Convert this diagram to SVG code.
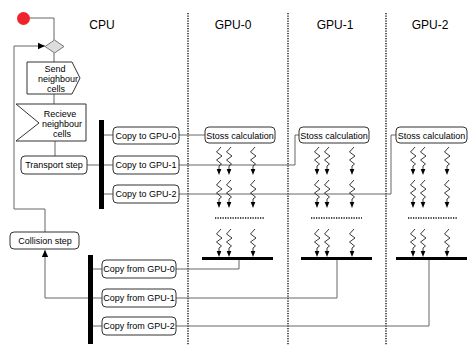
<svg xmlns="http://www.w3.org/2000/svg" xmlns:xlink="http://www.w3.org/1999/xlink" width="469" height="345" viewBox="0 0 469 345">
<style>
.box{fill:#fff;stroke:#333;stroke-width:1}
.t{font-family:"Liberation Sans",Arial,sans-serif;font-size:9px;fill:#000;text-anchor:middle}
.h{font-family:"Liberation Sans",Arial,sans-serif;font-size:12px;fill:#000;text-anchor:middle}
.c{fill:none;stroke:#666;stroke-width:1}
.bar{fill:#000}
.dot{stroke:#111;stroke-width:1.4;stroke-dasharray:1.3,1.2;fill:none}
.zz{fill:none;stroke:#222;stroke-width:0.9}
</style>
<defs>
<marker id="ah" markerWidth="8" markerHeight="8" refX="7" refY="4" orient="auto" markerUnits="userSpaceOnUse">
<path d="M0,0.8 L7,4 L0,7.2 Z" fill="#000"/>
</marker>
<g id="zig">
<path class="zz" d="M2,0 L-2.5,5 L3,9 L-2.5,13 L2.5,17 L0,19 L0,23"/>
<path d="M-2.3,22 L2.3,22 L0,28 Z" fill="#000"/>
</g>
</defs>
<rect width="469" height="345" fill="#fff"/>

<g id="headers">
<text class="h" x="102" y="29">CPU</text>
<text class="h" x="233" y="29">GPU-0</text>
<text class="h" x="335" y="29">GPU-1</text>
<text class="h" x="430" y="29">GPU-2</text>
</g>

<g id="lanes">
<line class="dot" x1="188" y1="13" x2="188" y2="345"/>
<line class="dot" x1="288" y1="13" x2="288" y2="345"/>
<line class="dot" x1="386" y1="13" x2="386" y2="345"/>
</g>

<g id="connectors">
<path class="c" d="M29,18 H54 V40"/>
<path class="c" d="M45,232 V209 H14 V46 H45" marker-end="url(#ah)"/>
<path class="c" d="M54,53 V62"/>
<path class="c" d="M54,94 V104"/>
<path class="c" d="M55,141 V156"/>
<path class="c" d="M87,165 H99"/>
<path class="c" d="M104,135 H113"/>
<path class="c" d="M104,165 H113"/>
<path class="c" d="M104,194 H113"/>
<path class="c" d="M179,135 H205"/>
<path class="c" d="M179,165 H295 V135 H299"/>
<path class="c" d="M179,194 H391 V135 H396"/>
<path class="c" d="M93,269 H102"/>
<path class="c" d="M93,298 H102"/>
<path class="c" d="M93,326 H102"/>
<path class="c" d="M88,298 H45 V250" marker-end="url(#ah)"/>
<path class="c" d="M239,259 V269 H176"/>
<path class="c" d="M337,259 V298 H176"/>
<path class="c" d="M429,259 V326 H176"/>
</g>

<g id="start"><circle cx="23.5" cy="18.5" r="6.5" fill="#f0232d"/></g>
<g id="decision"><path d="M45,46.5 L54.5,40 L64,46.5 L54.5,53 Z" fill="#ddd" stroke="#777" stroke-width="1"/></g>

<g id="send">
<path class="box" d="M27,62 H72 L80,78 L72,94 H27 Z"/>
<text class="t" x="55" y="72">Send</text>
<text class="t" x="58" y="82">neighbour</text>
<text class="t" x="56" y="92">cells</text>
</g>

<g id="recieve">
<path class="box" d="M16,104 H86 V141 H16 L39,123 Z"/>
<text class="t" x="60" y="117">Recieve</text>
<text class="t" x="62" y="127">neighbour</text>
<text class="t" x="62" y="137">cells</text>
</g>

<g id="transport">
<rect class="box" x="21" y="156" width="66" height="18" rx="4"/>
<text class="t" x="54" y="168">Transport step</text>
</g>

<g id="collision">
<rect class="box" x="10" y="232" width="69" height="17" rx="4"/>
<text class="t" x="45" y="244">Collision step</text>
</g>

<g id="bar-out"><rect class="bar" x="99" y="120" width="5" height="89"/></g>
<g id="bar-in"><rect class="bar" x="88" y="255" width="5" height="89"/></g>

<g id="copy-to-0"><rect class="box" x="113" y="127" width="66" height="17" rx="4"/><text class="t" x="146" y="139">Copy to GPU-0</text></g>
<g id="copy-to-1"><rect class="box" x="113" y="156" width="66" height="18" rx="4"/><text class="t" x="146" y="168">Copy to GPU-1</text></g>
<g id="copy-to-2"><rect class="box" x="113" y="185" width="66" height="18" rx="4"/><text class="t" x="146" y="197">Copy to GPU-2</text></g>

<g id="copy-from-0"><rect class="box" x="102" y="260" width="74" height="18" rx="4"/><text class="t" x="139" y="272">Copy from GPU-0</text></g>
<g id="copy-from-1"><rect class="box" x="102" y="289" width="74" height="18" rx="4"/><text class="t" x="139" y="301">Copy from GPU-1</text></g>
<g id="copy-from-2"><rect class="box" x="102" y="317" width="74" height="18" rx="4"/><text class="t" x="139" y="329">Copy from GPU-2</text></g>

<g id="stoss-0"><rect class="box" x="205" y="127" width="70" height="16" rx="4"/><text class="t" x="240" y="138.5">Stoss calculation</text></g>
<g id="stoss-1"><rect class="box" x="299" y="127" width="70" height="16" rx="4"/><text class="t" x="334" y="138.5">Stoss calculation</text></g>
<g id="stoss-2"><rect class="box" x="396" y="127" width="71" height="16" rx="4"/><text class="t" x="431.5" y="138.5">Stoss calculation</text></g>

<g id="gpu0-work">
<use xlink:href="#zig" x="219" y="147"/><use xlink:href="#zig" x="229" y="147"/><use xlink:href="#zig" x="253" y="147"/>
<use xlink:href="#zig" x="219" y="180"/><use xlink:href="#zig" x="229" y="180"/><use xlink:href="#zig" x="253" y="180"/>
<line class="dot" x1="215" y1="218" x2="264" y2="218"/>
<use xlink:href="#zig" x="219" y="229"/><use xlink:href="#zig" x="229" y="229"/><use xlink:href="#zig" x="253" y="229"/>
<rect class="bar" x="202" y="257" width="71" height="3"/>
</g>
<g id="gpu1-work">
<use xlink:href="#zig" x="317" y="147"/><use xlink:href="#zig" x="327" y="147"/><use xlink:href="#zig" x="352" y="147"/>
<use xlink:href="#zig" x="317" y="180"/><use xlink:href="#zig" x="327" y="180"/><use xlink:href="#zig" x="352" y="180"/>
<line class="dot" x1="311" y1="218" x2="362" y2="218"/>
<use xlink:href="#zig" x="317" y="229"/><use xlink:href="#zig" x="327" y="229"/><use xlink:href="#zig" x="352" y="229"/>
<rect class="bar" x="301" y="257" width="71" height="3"/>
</g>
<g id="gpu2-work">
<use xlink:href="#zig" x="413" y="147"/><use xlink:href="#zig" x="423" y="147"/><use xlink:href="#zig" x="447" y="147"/>
<use xlink:href="#zig" x="413" y="180"/><use xlink:href="#zig" x="423" y="180"/><use xlink:href="#zig" x="447" y="180"/>
<line class="dot" x1="408" y1="218" x2="457" y2="218"/>
<use xlink:href="#zig" x="413" y="229"/><use xlink:href="#zig" x="423" y="229"/><use xlink:href="#zig" x="447" y="229"/>
<rect class="bar" x="396" y="257" width="71" height="3"/>
</g>
</svg>
